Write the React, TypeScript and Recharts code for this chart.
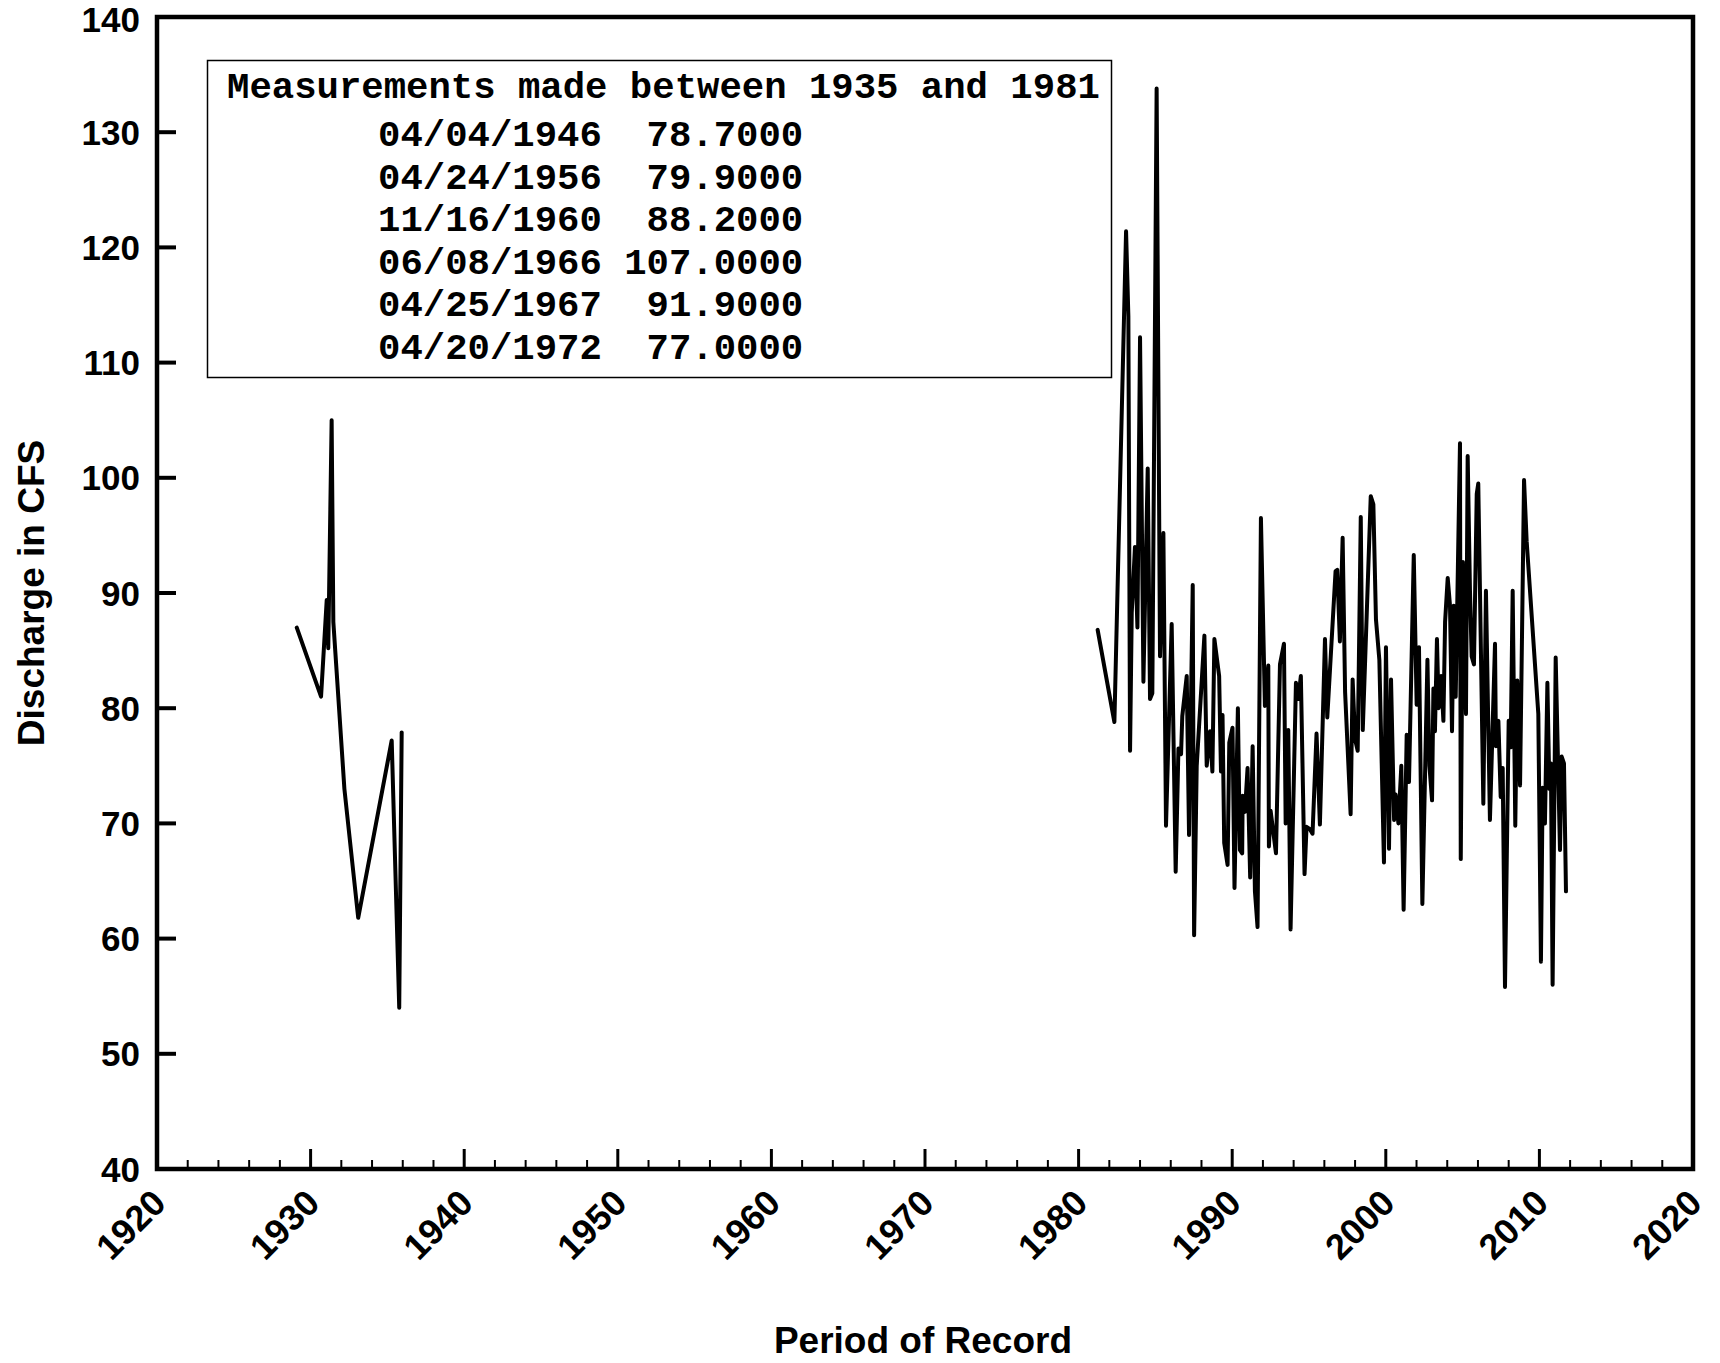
import { LineChart, Line, XAxis, YAxis, ReferenceArea } from "recharts";

// 1929-1936 field measurements
const earlyYears = [1929.1, 1930.68, 1931.05, 1931.15, 1931.37, 1931.48, 1932.2, 1933.1, 1935.28, 1935.77, 1935.93];
const earlyQ = [87.0, 81.0, 89.4, 85.2, 105.0, 87.5, 73.0, 61.8, 77.2, 54.0, 77.9];

// 1981-2012 field measurements
const recentYears = [
  1981.24, 1982.33, 1983.09, 1983.24, 1983.35, 1983.46, 1983.67, 1983.83, 1984.0, 1984.22,
  1984.5, 1984.65, 1984.8, 1985.08, 1985.3, 1985.52, 1985.69, 1986.06, 1986.32, 1986.5,
  1986.67, 1986.75, 1987.04, 1987.19, 1987.43, 1987.52, 1987.69, 1988.19, 1988.34, 1988.56,
  1988.71, 1988.84, 1989.15, 1989.27, 1989.37, 1989.48, 1989.7, 1989.81, 1990.02, 1990.15,
  1990.37, 1990.5, 1990.65, 1990.68, 1990.83, 1991.0, 1991.17, 1991.33, 1991.48, 1991.65,
  1991.87, 1992.13, 1992.35, 1992.39, 1992.5, 1992.85, 1993.11, 1993.37, 1993.48, 1993.65,
  1993.8, 1994.15, 1994.3, 1994.47, 1994.71, 1994.84, 1995.06, 1995.23, 1995.49, 1995.71,
  1996.04, 1996.19, 1996.73, 1996.84, 1997.01, 1997.19, 1997.35, 1997.71, 1997.84, 1998.0,
  1998.17, 1998.37, 1998.5, 1999.02, 1999.19, 1999.36, 1999.58, 1999.88, 2000.01, 2000.21,
  2000.34, 2000.54, 2000.64, 2000.82, 2001.01, 2001.16, 2001.36, 2001.51, 2001.82, 2002.01,
  2002.16, 2002.38, 2002.71, 2002.84, 2003.01, 2003.1, 2003.2, 2003.33, 2003.44, 2003.6,
  2003.75, 2003.86, 2004.03, 2004.18, 2004.31, 2004.42, 2004.55, 2004.83, 2004.88, 2005.02,
  2005.1, 2005.22, 2005.33, 2005.48, 2005.59, 2005.74, 2005.92, 2006.02, 2006.35, 2006.52,
  2006.78, 2007.11, 2007.17, 2007.33, 2007.48, 2007.61, 2007.76, 2008.0, 2008.13, 2008.26,
  2008.43, 2008.56, 2008.74, 2009.0, 2009.17, 2009.93, 2010.1, 2010.21, 2010.36, 2010.52,
  2010.65, 2010.75, 2010.86, 2011.06, 2011.34, 2011.45, 2011.6, 2011.73,
];
const recentQ = [
  86.8, 78.8, 121.4, 114.0, 76.3, 88.3, 94.0, 87.0, 112.2, 82.3,
  100.8, 80.8, 81.3, 133.8, 84.5, 95.2, 69.8, 87.3, 65.8, 76.5,
  76.0, 79.3, 82.8, 69.0, 90.7, 60.3, 75.0, 86.3, 75.0, 78.0,
  74.5, 86.0, 82.8, 74.5, 79.4, 68.3, 66.4, 77.0, 78.3, 64.4,
  80.0, 67.7, 67.4, 72.4, 71.0, 74.8, 65.3, 76.7, 64.1, 61.0,
  96.5, 80.2, 83.7, 68.0, 71.1, 67.4, 83.8, 85.6, 70.0, 78.1,
  60.8, 82.2, 80.8, 82.8, 65.6, 69.7, 69.5, 69.1, 77.8, 69.9,
  86.0, 79.2, 91.9, 92.0, 85.8, 94.8, 81.4, 70.8, 82.5, 77.3,
  76.3, 96.6, 78.1, 98.4, 97.7, 87.7, 84.2, 66.6, 85.3, 67.8,
  82.5, 70.3, 72.5, 70.0, 75.0, 62.5, 77.7, 73.6, 93.3, 80.3,
  85.3, 63.0, 84.2, 75.0, 72.0, 81.7, 78.0, 86.0, 80.0, 82.8,
  78.9, 87.5, 91.3, 88.9, 78.0, 88.9, 81.0, 103.0, 66.9, 92.7,
  85.8, 79.5, 101.9, 90.2, 84.5, 83.8, 98.6, 99.5, 71.7, 90.2,
  70.3, 85.6, 76.7, 78.9, 72.3, 74.8, 55.8, 78.9, 76.6, 90.2,
  69.8, 82.4, 73.3, 99.8, 94.5, 79.5, 58.0, 73.1, 70.0, 82.2,
  73.0, 75.2, 56.0, 84.4, 67.7, 75.8, 75.2, 64.1,
];

const yTicks = [40, 50, 60, 70, 80, 90, 100, 110, 120, 130, 140];
const xTicks = [
  1920, 1922, 1924, 1926, 1928, 1930, 1932, 1934, 1936, 1938, 1940, 1942, 1944, 1946, 1948, 1950, 1952,
  1954, 1956, 1958, 1960, 1962, 1964, 1966, 1968, 1970, 1972, 1974, 1976, 1978, 1980, 1982, 1984, 1986,
  1988, 1990, 1992, 1994, 1996, 1998, 2000, 2002, 2004, 2006, 2008, 2010, 2012, 2014, 2016, 2018, 2020,
];

const legendTitle = "Measurements made between 1935 and 1981";
const legendDates = ["04/04/1946", "04/24/1956", "11/16/1960", "06/08/1966", "04/25/1967", "04/20/1972"];
const legendValues = [78.7, 79.9, 88.2, 107.0, 91.9, 77.0];

const data = [
  ...earlyYears.map((year, i) => ({ year, q: earlyQ[i] as number | null })),
  { year: 1958, q: null },
  ...recentYears.map((year, i) => ({ year, q: recentQ[i] as number | null })),
];

const SANS = "'Liberation Sans', Arial, Helvetica, sans-serif";
const MONO = "'Liberation Mono', 'Courier New', monospace";
const TICK_FONT = 35;

const XTick = ({ x, y, payload }: any) => {
  const major = payload.value % 10 === 0;
  const tx = x + 11;
  const ty = y + 36;
  return (
    <g>
      <line x1={x} y1={y} x2={x} y2={y - (major ? 20 : 9)} stroke="#000" strokeWidth={major ? 3 : 2} />
      {major && (
        <text x={tx} y={ty} transform={`rotate(-45 ${tx} ${ty})`} textAnchor="end"
          fontFamily={SANS} fontWeight="bold" fontSize={36} fill="#000">
          {payload.value}
        </text>
      )}
    </g>
  );
};

const YTick = ({ x, y, payload }: any) => {
  // baseline so that the digits are centred on the tick; keep the top label inside the page
  const baseline = Math.max(y + TICK_FONT * 0.358, TICK_FONT * 0.92);
  return (
    <g>
      <line x1={x} y1={y} x2={x + 19} y2={y} stroke="#000" strokeWidth={4} />
      <text x={x - 17} y={baseline} textAnchor="end"
        fontFamily={SANS} fontWeight="bold" fontSize={TICK_FONT} fill="#000">
        {payload.value}
      </text>
    </g>
  );
};

export default function App() {
  return (
    <div style={{ position: "absolute", left: 0, top: 0, width: 1720, height: 1363, background: "#fff" }}>
      <LineChart width={1720} height={1363} data={data} margin={{ top: 17, right: 27, bottom: 0, left: 0 }}>
        <XAxis
          type="number" dataKey="year" domain={[1920, 2020]} ticks={xTicks} interval={0}
          height={194} tickSize={0} tickMargin={0} axisLine={false} tick={<XTick />}
          label={{
            value: "Period of Record",
            content: (p: any) => (
              <text x={p.viewBox.x + p.viewBox.width / 2 - 2} y={p.viewBox.y + 184} textAnchor="middle"
                fontFamily={SANS} fontWeight="bold" fontSize={37} fill="#000">
                Period of Record
              </text>
            ),
          }}
        />
        <YAxis
          type="number" domain={[40, 140]} ticks={yTicks} interval={0}
          width={157} tickSize={0} tickMargin={0} axisLine={false} tick={<YTick />}
          label={{
            value: "Discharge in CFS",
            content: (p: any) => {
              const cx = 44;
              const cy = p.viewBox.y + p.viewBox.height / 2;
              return (
                <text x={cx} y={cy} transform={`rotate(-90 ${cx} ${cy})`} textAnchor="middle"
                  fontFamily={SANS} fontWeight="bold" fontSize={37} fill="#000">
                  Discharge in CFS
                </text>
              );
            },
          }}
        />
        <ReferenceArea x1={1920} x2={2020} y1={40} y2={140} fill="none" fillOpacity={0} stroke="#000" strokeWidth={4.5} />
        <Line
          type="linear" dataKey="q" stroke="#000" strokeWidth={4} dot={false}
          connectNulls={false} isAnimationActive={false}
          strokeLinejoin="round" strokeLinecap="round"
        />
      </LineChart>
      <svg width={1720} height={1363} style={{ position: "absolute", left: 0, top: 0, pointerEvents: "none" }}>
        <rect x={207.5} y={60.5} width={904} height={317} fill="none" stroke="#000" strokeWidth={1.5} />
        <text x={227} y={98} fontFamily={MONO} fontWeight="bold" fontSize={37.3} fill="#000" style={{ whiteSpace: "pre" }}>
          {legendTitle}
        </text>
        {legendDates.map((d, i) => (
          <text key={d} x={378} y={146 + i * 42.5} fontFamily={MONO} fontWeight="bold" fontSize={37.3} fill="#000"
            style={{ whiteSpace: "pre" }}>
            {`${d} ${legendValues[i].toFixed(4).padStart(8, " ")}`}
          </text>
        ))}
      </svg>
    </div>
  );
}
